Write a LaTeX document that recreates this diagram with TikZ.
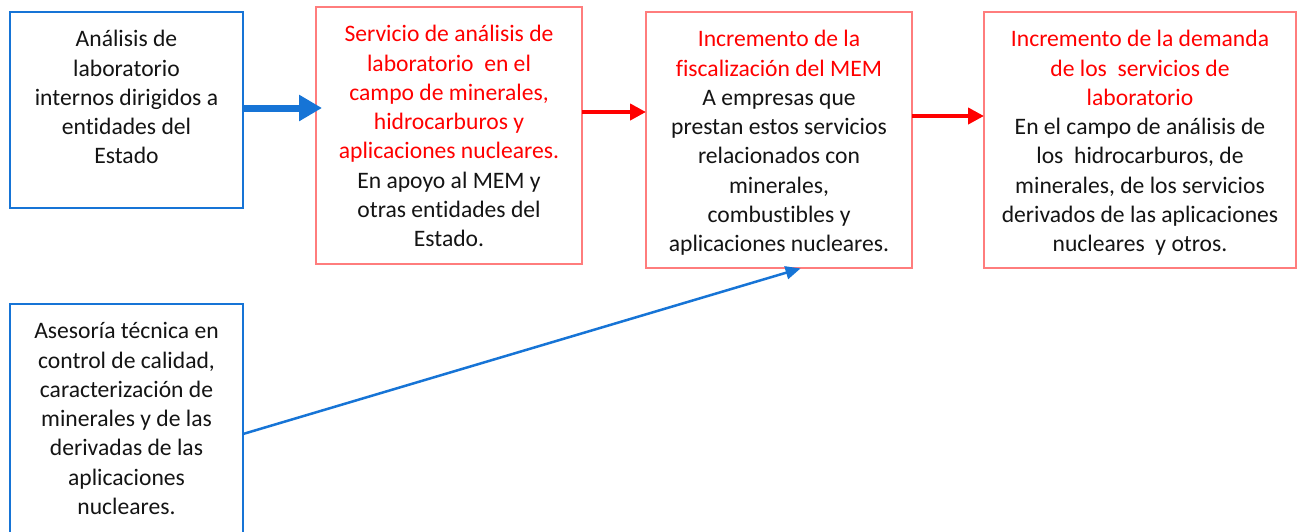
\documentclass[tikz,border=0pt]{standalone}
\usepackage{fontspec}
\setmainfont[Ligatures=NoCommon]{Carlito}
\usetikzlibrary{arrows.meta}
\definecolor{bblue}{RGB}{22,116,214}
\definecolor{lred}{RGB}{255,125,125}
\definecolor{txt}{RGB}{20,20,20}
\newcommand{\R}[1]{\textcolor{red}{#1}}
\tikzset{
  box/.style={inner sep=0pt, outer sep=0pt, anchor=north west},
  bluebox/.style={box, draw=bblue, line width=2.5pt},
  redbox/.style={box, draw=lred, line width=1.4pt},
  boxtext/.style={anchor=north, align=center, inner sep=0pt, text=txt,
    font=\fontsize{23.6}{29.3}\selectfont},
  thickblue/.style={draw=bblue, line width=7pt, -{Triangle[length=23pt,width=25pt]}},
  redarrow/.style={draw=red, line width=4pt, -{Triangle[length=16pt,width=16pt]}},
  thinblue/.style={draw=bblue, line width=2.5pt, -{Triangle[length=15pt,width=13pt]}},
}
\begin{document}
\begin{tikzpicture}[x=1pt,y=-1pt]
\useasboundingbox[fill=white] (0,0) rectangle (1297,531);
% boxes
\node[bluebox, minimum width=233, minimum height=196] (a) at (10,12) {};
\node[redbox, minimum width=266, minimum height=257] (b) at (316,7) {};
\node[redbox, minimum width=266, minimum height=256] (c) at (646,12) {};
\node[redbox, minimum width=312, minimum height=256] (d) at (984,12) {};
\node[box, minimum width=233, minimum height=240] (e) at (10,304) {};
\draw[draw=bblue, line width=2.5pt] (e.south west) -- (e.north west) -- (e.north east) -- (e.south east);
% texts
\node[boxtext] (ta) at ([yshift=-14pt]a.north) {\strut Análisis de\\laboratorio\\internos dirigidos a\\entidades del\\Estado};
\node[boxtext] (tb) at ([yshift=-14pt]b.north) {\strut\R{Servicio de análisis de}\\\R{laboratorio\ \ en el}\\\R{campo de minerales,}\\\R{hidrocarburos y}\\\R{aplicaciones nucleares.}\\En apoyo al MEM y\\otras entidades del\\Estado.};
\node[boxtext] (tc) at ([yshift=-14pt]c.north) {\strut\R{Incremento de la}\\\R{fiscalización del MEM}\\A empresas que\\prestan estos servicios\\relacionados con\\minerales,\\combustibles y\\aplicaciones nucleares.};
\node[boxtext] (td) at ([yshift=-14pt]d.north) {\strut\R{Incremento de la demanda}\\\R{de los\ \ servicios de}\\\R{laboratorio}\\En el campo de análisis de\\los\ \ hidrocarburos, de\\minerales, de los servicios\\derivados de las aplicaciones\\nucleares\ \ y otros.};
\node[boxtext] (te) at ([yshift=-14pt]e.north) {\strut Asesoría técnica en\\control de calidad,\\caracterización de\\minerales y de las\\derivadas de las\\aplicaciones\\nucleares.};
% connectors
\draw[thickblue, shorten >=-6pt] (a.east |- 0,108) -- (b.west |- 0,108);
\draw[redarrow] (b.east |- 0,112) -- (c.west |- 0,112);
\draw[redarrow] (c.east |- 0,116) -- (d.west |- 0,116);
\draw[thinblue, shorten >=1.5pt] (e.east |- 0,434) -- (c.south -| 802,0);
\end{tikzpicture}
\end{document}
